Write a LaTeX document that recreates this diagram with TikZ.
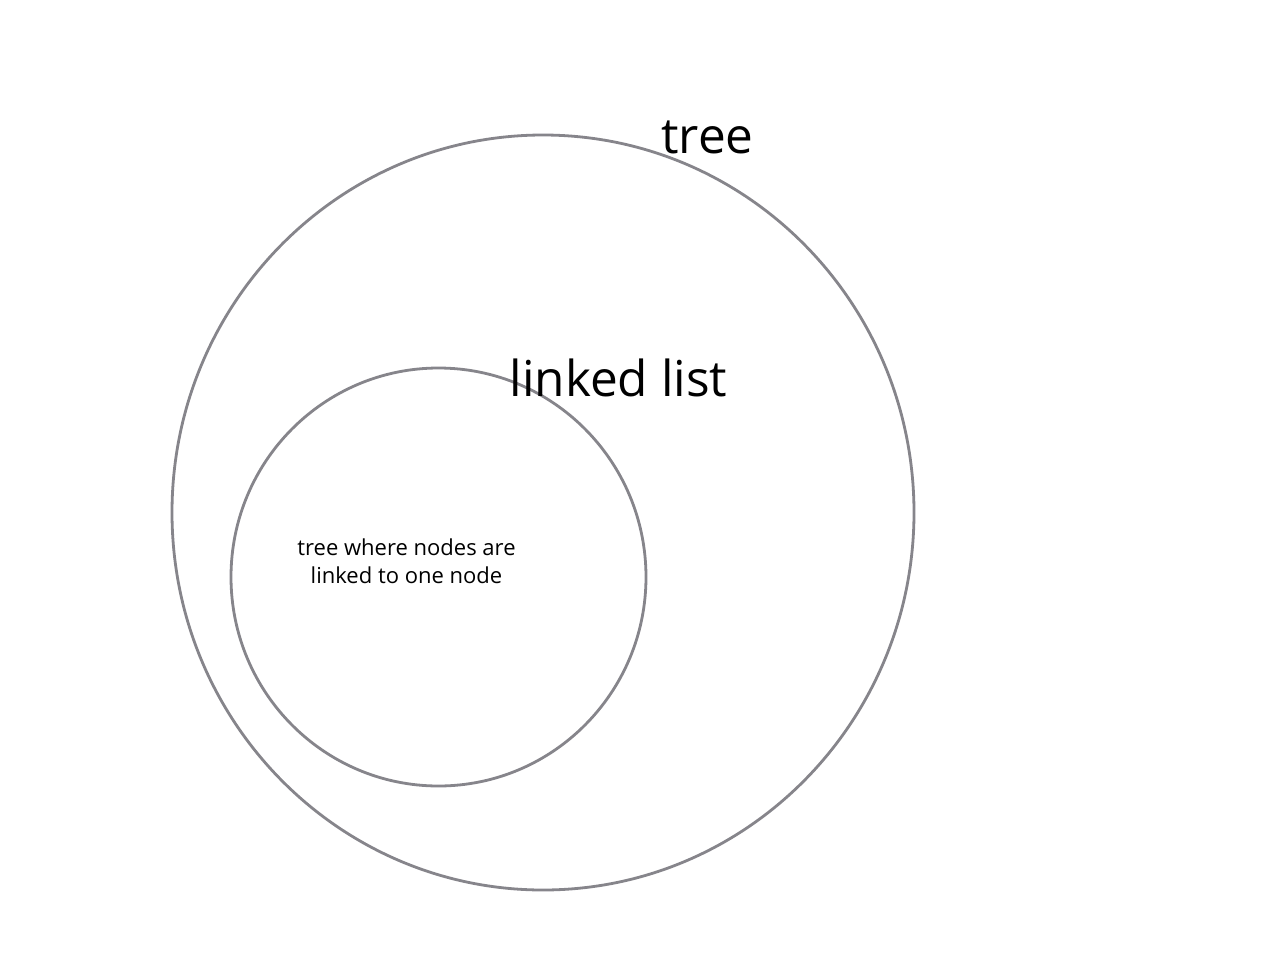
\documentclass[tikz,border=0pt]{standalone}
\usepackage{fontspec}
\setmainfont{Open Sans}
\begin{document}
\begin{tikzpicture}[x=1pt,y=-1pt,
  lbl/.style={inner sep=0pt, anchor=base}]
\definecolor{ringgray}{RGB}{134,133,139}
\tikzset{ring/.style={draw=ringgray, line width=2.8pt}}
\useasboundingbox (0,0) rectangle (1272,962);
\fill[white] (0,0) rectangle (1272,962);
\draw[ring] (543,512.5) ellipse [x radius=371, y radius=377.5];
\draw[ring] (438.5,577) ellipse [x radius=207.5, y radius=209];
\node[lbl, font=\fontsize{49.5}{54}\selectfont] (tree) at (707.5,153) {tree};
\node[lbl, font=\fontsize{49.5}{54}\selectfont] (ll) at (618.5,396) {linked list};
\node[inner sep=0pt, align=center, font=\fontsize{22}{28}\selectfont] (inner) at (406.5,561) {tree where nodes are\\linked to one node};
\end{tikzpicture}
\end{document}
